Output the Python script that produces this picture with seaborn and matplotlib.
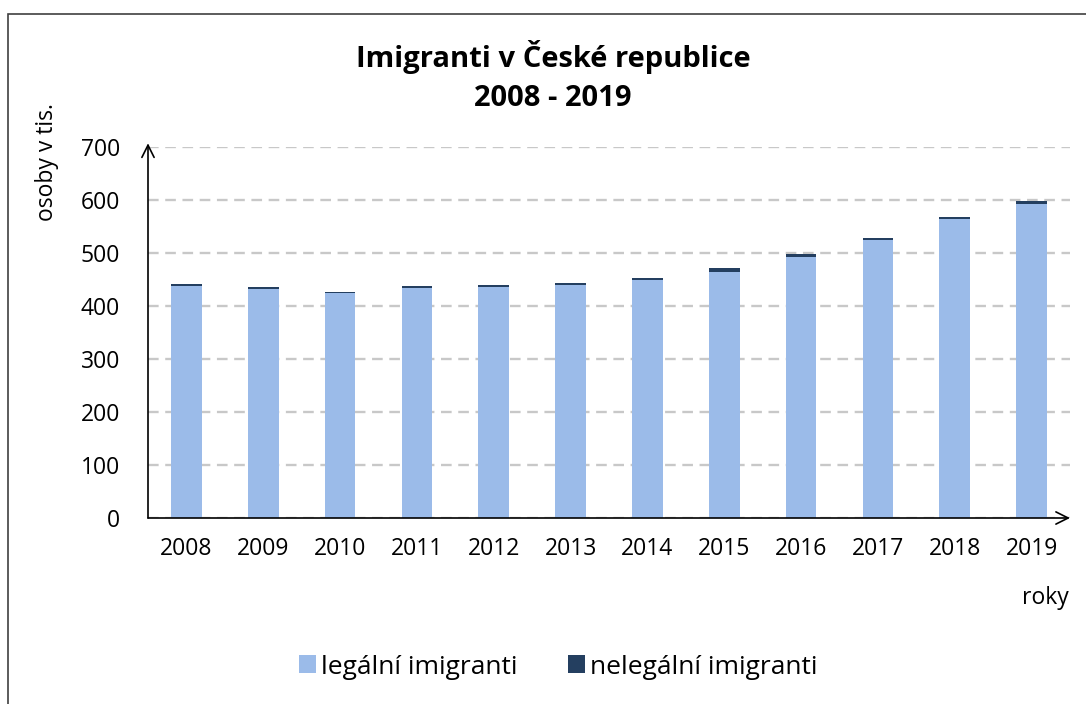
import matplotlib
matplotlib.use("Agg")
import matplotlib.pyplot as plt
import pandas as pd
import seaborn as sns
from matplotlib.patches import Rectangle

years = ["2008", "2009", "2010", "2011", "2012", "2013",
         "2014", "2015", "2016", "2017", "2018", "2019"]
legal = [437, 432, 424, 434, 436, 439, 449, 464, 493, 524, 564, 593]
illegal = [4, 4, 3, 3, 3, 4, 4, 8, 5, 4, 4, 5]

light = "#9bbbe9"
dark = "#243f60"

sns.set_style("white")
plt.rcParams["font.family"] = ["Open Sans", "DejaVu Sans"]
plt.rcParams["text.color"] = "black"

df = pd.DataFrame({"rok": years, "legal": legal, "illegal": illegal})
df["total"] = df["legal"] + df["illegal"]

fig = plt.figure(figsize=(10.86, 7.04), dpi=100)
ax = fig.add_axes([148 / 1086, 186 / 704, 922 / 1086, 371 / 704])

# stacked bars: total (dark) underneath, legal (light) on top
sns.barplot(data=df, x="rok", y="total", color=dark, width=0.4,
            saturation=1, linewidth=0, ax=ax, label="nelegální imigranti")
sns.barplot(data=df, x="rok", y="legal", color=light, width=0.4,
            saturation=1, linewidth=0, ax=ax, label="legální imigranti")

ax.set_ylim(0, 700)
ax.set_xlim(-0.5, 11.5)
ax.set_yticks(range(0, 701, 100))
ax.yaxis.grid(True, color="#c8c8c8", linestyle=(0, (4.5, 2.8)), linewidth=1.7)
ax.set_axisbelow(True)
for s in ax.spines.values():
    s.set_visible(False)
ax.tick_params(axis="both", length=0, labelsize=16.5, labelcolor="black")
ax.tick_params(axis="y", pad=20)
ax.tick_params(axis="x", pad=14)
ax.set_xlabel("")
ax.set_ylabel("")

# axis lines with arrow heads
ax.annotate("", xy=(0, 1.01), xycoords="axes fraction", xytext=(0, 0),
            arrowprops=dict(arrowstyle="->", color="black", lw=1.2,
                            mutation_scale=22, shrinkA=0, shrinkB=0))
ax.annotate("", xy=(1.0, 0), xycoords="axes fraction", xytext=(0, 0),
            arrowprops=dict(arrowstyle="->", color="black", lw=1.2,
                            mutation_scale=22, shrinkA=0, shrinkB=0))

fig.text(553 / 1086, 1 - 57 / 704, "Imigranti v České republice",
         ha="center", va="center", fontsize=21, fontweight="bold")
fig.text(553 / 1086, 1 - 98 / 704, "2008 - 2019",
         ha="center", va="center", fontsize=21, fontweight="bold")
fig.text(47 / 1086, 1 - 162 / 704, "osoby v tis.", rotation=90,
         ha="center", va="center", fontsize=16.5)
fig.text(1069 / 1086, 1 - 598 / 704, "roky", ha="right", va="center",
         fontsize=16.5)

handles, labels = ax.get_legend_handles_labels()
order = [labels.index("legální imigranti"), labels.index("nelegální imigranti")]
fig.legend([handles[i] for i in order], [labels[i] for i in order],
           loc="center", bbox_to_anchor=(558 / 1086, 1 - 667 / 704),
           ncol=2, frameon=False, fontsize=19, handlelength=0.65,
           handleheight=0.65, handletextpad=0.2, columnspacing=1.9)
if ax.get_legend():
    ax.get_legend().remove()

fig.patches.append(Rectangle((8 / 1086, -0.01), 1.0, 1 - 14 / 704 + 0.01,
                             transform=fig.transFigure, fill=False,
                             edgecolor="#404040", linewidth=1.2))

fig.savefig("out.png", dpi=100)
